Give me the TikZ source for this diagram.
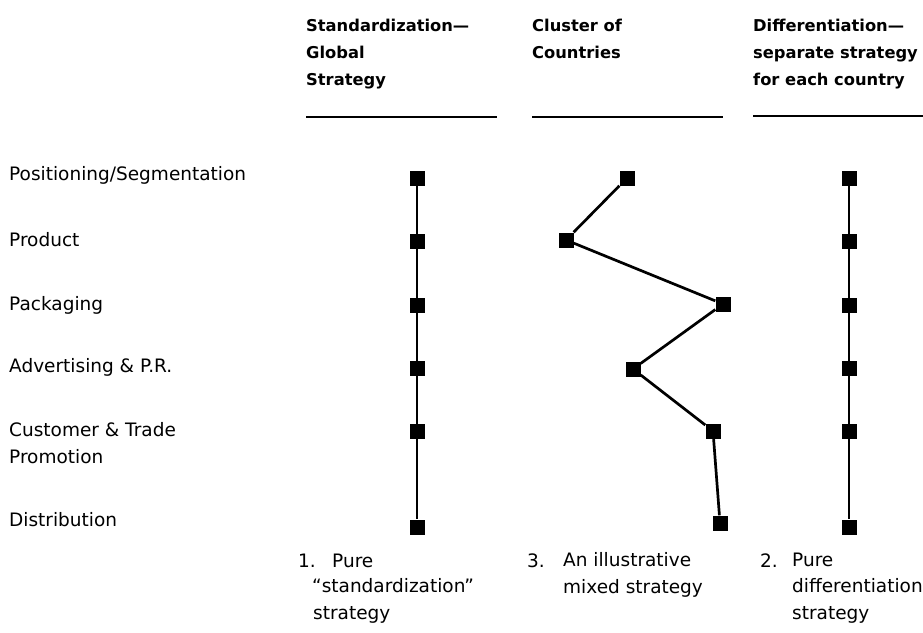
\documentclass[tikz,border=0pt]{standalone}
\usepackage{fontspec}
\setmainfont{DejaVu Sans}
\begin{document}
\begin{tikzpicture}[x=1pt, y=-1pt,
  txt/.style={anchor=base west, inner sep=0pt, align=left, font=\fontsize{18.5}{26.5}\selectfont},
  head/.style={txt, font=\fontsize{16.3}{27}\selectfont\bfseries},
  sq/.style={fill=black, inner sep=0pt, minimum size=15pt},
  link/.style={line width=2.7pt},
  rule/.style={line width=1.8pt}]
\useasboundingbox (0,0) rectangle (923,632);

% Column headings (base = last line)
\node[head] (hstd) at (306,85) {Standardization—\\Global\\Strategy};
\node[head] (hclu) at (532,58) {Cluster of\\Countries};
\node[head] (hdif) at (753,85) {Differentiation—\\separate strategy\\for each country};
\draw[rule] (306,117) -- (497,117);
\draw[rule] (532,117) -- (723,117);
\draw[rule] (753,116) -- (923,116);

% Marketing elements
\node[txt] (lpos)  at (9,180) {Positioning/Segmentation};
\node[txt] (lprod) at (9,246) {Product};
\node[txt] (lpack) at (9,310) {Packaging};
\node[txt] (ladv)  at (9,372) {Advertising \& P.R.};
\node[txt] (lcust) at (9,463) {Customer \& Trade\\Promotion};
\node[txt] (ldist) at (9,526) {Distribution};

% Pure strategies
\foreach \i/\y in {1/178, 2/241, 3/305, 4/368, 5/431, 6/527} {
  \node[sq] (s\i) at (417,\y) {};
  \node[sq] (d\i) at (849,\y) {};
}
\draw[link] (s1) -- (s6);
\draw[link] (d1) -- (d6);

% Mixed strategy
\foreach \i/\x/\y in {1/627/178, 2/566/240, 3/723/304, 4/633/369, 5/713/431, 6/720/523}
  \node[sq] (c\i) at (\x,\y) {};
\draw[link] (c1) -- (c2) -- (c3) -- (c4) -- (c5) -- (c6);

% Captions
\node[txt] (n1) at (298,567) {1.};
\node[txt] (t1) at (332,567) {Pure};
\node[txt] (t1b) at (312,619) {“standardization”\\\hspace{1pt}strategy};
\node[txt] (n3) at (527,567) {3.};
\node[txt] (t3) at (563,593) {An illustrative\\mixed strategy};
\node[txt] (n2) at (760,567) {2.};
\node[txt] (t2) at (792,619) {Pure\\differentiation\\strategy};
\end{tikzpicture}
\end{document}
